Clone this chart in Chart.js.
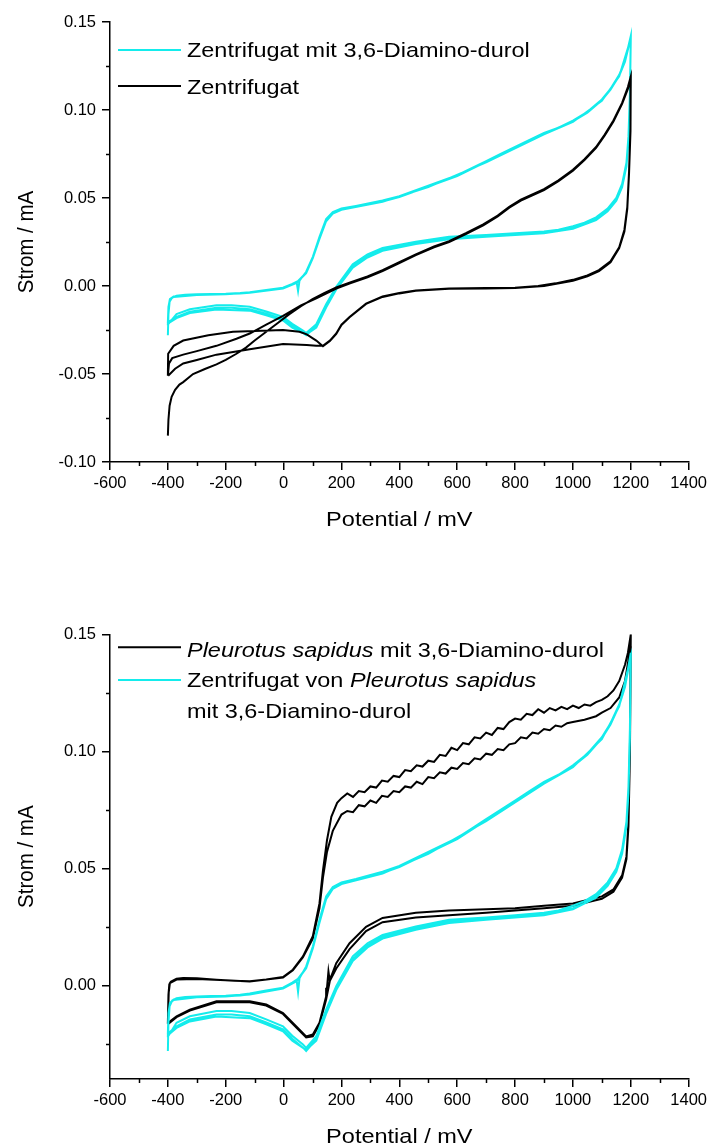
<!DOCTYPE html>
<html>
<head>
<meta charset="utf-8">
<script src="https://cdn.jsdelivr.net/npm/chart.js@4.4.1/dist/chart.umd.min.js"></script>
<style>
html, body { margin: 0; padding: 0; background: #fff; }
#wrap { position: relative; width: 711px; height: 1148px; }
canvas { position: absolute; left: 0; }
</style>
</head>
<body>
<div id="wrap">
  <canvas id="top" width="711" height="560" style="top:0px"></canvas>
  <canvas id="bottom" width="711" height="588" style="top:560px"></canvas>
</div>
<script>
// values: [potential mV, current mA]
const xTicks = [-600, -400, -200, 0, 200, 400, 600, 800, 1000, 1200, 1400]
const yTicksTop = [-0.10, -0.05, 0.00, 0.05, 0.10, 0.15]
const yTicksBottom = [0.00, 0.05, 0.10, 0.15]

// Zentrifugat mit 3,6-Diamino-durol (same run in both panels)
const cyanF1 = [[-400,-0.028],[-398,-0.016],[-394,-0.009],[-385,-0.0065],[-370,-0.0055],[-340,-0.005],[-300,-0.0047],[-250,-0.0045],[-200,-0.0044],[-150,-0.004],[-117,-0.0035],[-60,-0.0022],[-2,-0.001],[30,0.0012],[45,0.0024],[50,-0.0028],[55,0.003],[78,0.0081],[101,0.0166],[124,0.028],[147,0.038],[170,0.042],[200,0.044],[250,0.0455],[342,0.0486],[400,0.051],[450,0.054],[500,0.057],[550,0.06],[600,0.063],[650,0.067],[700,0.071],[750,0.075],[800,0.079],[850,0.083],[900,0.087],[950,0.09],[1000,0.094],[1050,0.099],[1100,0.106],[1130,0.112],[1160,0.12],[1180,0.128],[1200,0.142]]
const cyanR1 = [[1200,0.142],[1197,0.11],[1192,0.085],[1185,0.07],[1170,0.058],[1150,0.05],[1120,0.044],[1080,0.039],[1040,0.036],[1000,0.034],[950,0.032],[900,0.031],[800,0.03],[700,0.029],[572,0.028],[457,0.0252],[342,0.0216],[290,0.018],[239,0.0124],[182,-0.0004],[147,-0.0104],[113,-0.0217],[78,-0.0267],[67,-0.0253],[30,-0.0215],[-2,-0.0175],[-60,-0.0145],[-117,-0.0118],[-180,-0.011],[-232,-0.011],[-324,-0.0132],[-370,-0.016],[-399,-0.0217]]
const cyanF2 = [[-400,-0.0217],[-398,-0.012],[-393,-0.0075],[-380,-0.006],[-340,-0.0054],[-300,-0.005],[-232,-0.0047],[-150,-0.0043],[-117,-0.0038],[-60,-0.0025],[-2,-0.0013],[30,0.001],[45,0.002],[78,0.0075],[101,0.016],[124,0.027],[147,0.037],[170,0.0415],[200,0.0435],[250,0.045],[342,0.048],[400,0.0505],[500,0.0565],[600,0.0625],[700,0.0705],[800,0.0785],[900,0.0865],[1000,0.0935],[1050,0.0985],[1100,0.1055],[1130,0.1115],[1160,0.1195],[1180,0.1275],[1200,0.141]]
const cyanR2 = [[1200,0.141],[1197,0.108],[1192,0.083],[1185,0.069],[1170,0.057],[1150,0.049],[1120,0.043],[1080,0.038],[1040,0.035],[1000,0.033],[900,0.0305],[800,0.0295],[700,0.0285],[572,0.0272],[457,0.0245],[342,0.0208],[290,0.017],[239,0.0112],[182,-0.0014],[147,-0.0116],[113,-0.023],[78,-0.028],[67,-0.0266],[30,-0.0228],[-2,-0.0188],[-60,-0.0158],[-117,-0.0132],[-180,-0.0124],[-232,-0.0124],[-324,-0.0146],[-370,-0.0175],[-399,-0.0205]]
const cyanF3 = [[-400,-0.0205],[-398,-0.0118],[-393,-0.0076],[-380,-0.0062],[-300,-0.0051],[-200,-0.0047],[-117,-0.0039],[-2,-0.0014],[45,0.0018],[78,0.0073],[101,0.0158],[124,0.0268],[147,0.0368],[170,0.0412],[200,0.0433],[342,0.0478],[500,0.0562],[700,0.0702],[900,0.0862],[1000,0.0932],[1100,0.1052],[1160,0.1192],[1200,0.1405]]
const cyanR3 = [[1200,0.1405],[1197,0.106],[1192,0.082],[1185,0.068],[1170,0.0562],[1150,0.0485],[1120,0.0425],[1080,0.0375],[1000,0.0325],[900,0.03],[700,0.028],[572,0.0266],[457,0.0238],[342,0.02],[290,0.0162],[239,0.0104],[182,-0.002],[147,-0.0122],[113,-0.0236],[78,-0.0276],[30,-0.0236],[-2,-0.0196],[-60,-0.0166],[-117,-0.014],[-232,-0.0133],[-324,-0.0154],[-370,-0.0182],[-399,-0.0212]]

// Zentrifugat
const blackF1 = [[-400,-0.085],[-398,-0.076],[-394,-0.068],[-387,-0.063],[-375,-0.059],[-360,-0.056],[-347,-0.0546],[-313,-0.05],[-270,-0.047],[-232,-0.0445],[-200,-0.042],[-163,-0.0385],[-130,-0.035],[-100,-0.031],[-60,-0.026],[-20,-0.021],[20,-0.016],[60,-0.0115],[100,-0.0075],[140,-0.004],[182,-0.0008],[230,0.002],[290,0.0055],[342,0.009],[400,0.0135],[457,0.018],[520,0.0225],[572,0.0255],[630,0.03],[690,0.035],[740,0.04],[780,0.045],[820,0.049],[860,0.052],[900,0.055],[950,0.06],[1000,0.066],[1040,0.072],[1080,0.079],[1110,0.086],[1140,0.094],[1170,0.104],[1190,0.113],[1200,0.119]]
const blackR1 = [[1200,0.119],[1198,0.09],[1194,0.065],[1188,0.045],[1178,0.032],[1160,0.022],[1130,0.014],[1090,0.009],[1050,0.006],[1000,0.0035],[940,0.0015],[880,0.0],[800,-0.001],[700,-0.0012],[572,-0.0014],[457,-0.0025],[400,-0.004],[342,-0.006],[285,-0.01],[228,-0.0176],[200,-0.022],[182,-0.027],[160,-0.031],[136,-0.034],[113,-0.034],[80,-0.0335],[-2,-0.033],[-117,-0.036],[-232,-0.039],[-300,-0.042],[-347,-0.044],[-375,-0.047],[-399,-0.051]]
const blackF2 = [[-400,-0.051],[-396,-0.044],[-385,-0.041],[-347,-0.039],[-300,-0.037],[-232,-0.034],[-163,-0.03],[-117,-0.027],[-60,-0.022],[-2,-0.017],[60,-0.011],[113,-0.007],[182,-0.0015],[230,0.0015],[290,0.005],[342,0.0085],[400,0.013],[457,0.0175],[520,0.022],[572,0.025],[630,0.0295],[690,0.0345],[740,0.0395],[780,0.0445],[820,0.0485],[860,0.0515],[900,0.0545],[950,0.0595],[1000,0.0655],[1040,0.0715],[1080,0.0785],[1110,0.0855],[1140,0.0935],[1170,0.1035],[1190,0.112],[1200,0.118]]
const blackR2 = [[1200,0.118],[1198,0.088],[1194,0.064],[1188,0.044],[1178,0.031],[1160,0.0215],[1130,0.0135],[1090,0.0085],[1050,0.0055],[1000,0.003],[900,0.0],[800,-0.0012],[700,-0.0014],[572,-0.0016],[457,-0.0027],[400,-0.0042],[342,-0.0062],[285,-0.0102],[228,-0.0178],[200,-0.0222],[182,-0.0272],[160,-0.0312],[136,-0.0342],[113,-0.031],[80,-0.0275],[55,-0.026],[-2,-0.025],[-100,-0.0255],[-175,-0.026],[-260,-0.028],[-347,-0.031],[-380,-0.034],[-399,-0.0385]]

// Pleurotus sapidus mit 3,6-Diamino-durol
const psF1 = [[-400,-0.016],[-398,-0.004],[-395,0.0005],[-390,0.0015],[-370,0.0028],[-347,0.0032],[-300,0.003],[-232,0.0024],[-170,0.002],[-117,0.0018],[-60,0.0025],[-2,0.0036],[32,0.0067],[67,0.0124],[101,0.021],[124,0.035],[136,0.049],[150,0.062],[165,0.072],[185,0.078],[200,0.08],[220,0.082],[240,0.0805],[260,0.083],[280,0.0825],[300,0.085],[320,0.0845],[340,0.0875],[360,0.087],[380,0.0895],[400,0.089],[420,0.092],[440,0.0915],[460,0.094],[480,0.0935],[500,0.096],[520,0.0955],[540,0.0985],[560,0.098],[580,0.1015],[600,0.1005],[620,0.1035],[640,0.103],[660,0.106],[680,0.1055],[700,0.108],[720,0.107],[740,0.11],[760,0.1095],[780,0.1125],[800,0.114],[820,0.1135],[840,0.116],[860,0.1155],[880,0.118],[900,0.1165],[920,0.1185],[940,0.1175],[960,0.119],[980,0.118],[1000,0.1195],[1020,0.1185],[1040,0.12],[1060,0.1195],[1080,0.121],[1100,0.122],[1120,0.1235],[1140,0.126],[1160,0.13],[1180,0.137],[1190,0.142],[1200,0.15]]
const psR1 = [[1200,0.15],[1197,0.1],[1192,0.07],[1185,0.055],[1170,0.047],[1140,0.041],[1100,0.038],[1050,0.0365],[1000,0.035],[900,0.034],[800,0.033],[700,0.0325],[572,0.032],[457,0.031],[342,0.0288],[285,0.025],[228,0.018],[182,0.0095],[165,0.004],[159,0.0024],[155,0.006],[150,-0.001],[147,-0.0047],[124,-0.016],[101,-0.021],[78,-0.0218],[44,-0.0175],[-2,-0.0118],[-60,-0.0082],[-117,-0.0068],[-232,-0.0068],[-324,-0.0104],[-370,-0.0132],[-399,-0.016]]
const psF2 = [[-400,-0.016],[-397,-0.003],[-393,0.001],[-370,0.0025],[-300,0.0027],[-200,0.0022],[-117,0.0017],[-2,0.0033],[32,0.0064],[67,0.012],[101,0.02],[124,0.033],[136,0.046],[150,0.057],[170,0.066],[200,0.073],[220,0.0745],[240,0.074],[260,0.077],[280,0.0765],[300,0.079],[320,0.078],[340,0.081],[360,0.0805],[380,0.083],[400,0.0825],[420,0.085],[440,0.0845],[460,0.087],[480,0.086],[500,0.089],[520,0.0885],[540,0.091],[560,0.0905],[580,0.093],[600,0.0925],[620,0.095],[640,0.0945],[660,0.097],[680,0.0965],[700,0.099],[720,0.0985],[740,0.101],[760,0.1005],[780,0.103],[800,0.1035],[820,0.106],[840,0.1055],[860,0.108],[880,0.1075],[900,0.1095],[920,0.109],[940,0.111],[960,0.1105],[980,0.112],[1000,0.1125],[1040,0.1135],[1080,0.115],[1100,0.1165],[1130,0.1185],[1160,0.123],[1180,0.13],[1200,0.145]]
const psR2 = [[1200,0.145],[1197,0.098],[1192,0.068],[1185,0.054],[1170,0.046],[1140,0.04],[1100,0.037],[1050,0.0355],[1000,0.034],[900,0.033],[800,0.032],[700,0.031],[572,0.03],[457,0.029],[342,0.027],[285,0.0232],[228,0.0155],[182,0.0072],[160,0.002],[147,-0.006],[124,-0.0168],[101,-0.0218],[78,-0.0222],[44,-0.018],[-2,-0.0122],[-60,-0.0086],[-117,-0.0072],[-232,-0.0072],[-324,-0.0108],[-370,-0.0136],[-399,-0.0165]]

const cyan = '#14ECEC'
const black = '#000000'

function pts(branches) {
    let out = []
    branches.forEach(b => b.forEach(p => out.push({x: p[0], y: p[1]})))
    return out
}

function makeDataset(branches, color) {
    return {
        data: pts(branches),
        showLine: true,
        borderColor: color,
        borderWidth: 2,
        pointRadius: 0,
        tension: 0,
        fill: false
    }
}

// the scanned figure is wider than it is tall, so text is stretched sideways
function drawRuns(ctx, runs, x, y, size, sx, sy) {
    ctx.save()
    ctx.translate(x, y)
    ctx.scale(sx, sy || 1)
    let cx = 0
    runs.forEach(r => {
        ctx.font = (r.italic ? 'italic ' : '') + size + 'px "Liberation Sans", Arial, sans-serif'
        ctx.fillText(r.text, cx, 0)
        cx += ctx.measureText(r.text).width
    })
    ctx.restore()
}

const extras = {
    id: 'extras',
    afterDraw(chart, args, opts) {
        const ctx = chart.ctx
        const xs = chart.scales.x
        const ys = chart.scales.y
        ctx.save()
        ctx.strokeStyle = '#000'
        ctx.lineWidth = 1.5
        // minor ticks
        opts.xMinor.forEach(v => {
            const px = Math.round(xs.getPixelForValue(v)) + 0.5
            ctx.beginPath(); ctx.moveTo(px, ys.bottom); ctx.lineTo(px, ys.bottom + 4); ctx.stroke()
        })
        opts.yMinor.forEach(v => {
            const py = Math.round(ys.getPixelForValue(v)) + 0.5
            ctx.beginPath(); ctx.moveTo(xs.left, py); ctx.lineTo(xs.left - 4, py); ctx.stroke()
        })
        ctx.fillStyle = '#000'
        ctx.textBaseline = 'alphabetic'
        ctx.textAlign = 'left'
        // axis titles
        ctx.font = '21px "Liberation Sans", Arial, sans-serif'
        const xt = 'Potential / mV'
        const xw = ctx.measureText(xt).width * 1.12
        drawRuns(ctx, [{text: xt}], (xs.left + xs.right) / 2 - xw / 2, opts.xTitleY, 21, 1.12)
        ctx.font = '20.5px "Liberation Sans", Arial, sans-serif'
        const yt = 'Strom / mA'
        const yw = ctx.measureText(yt).width
        ctx.save()
        ctx.translate(opts.yTitleX, (ys.top + ys.bottom) / 2)
        ctx.rotate(-Math.PI / 2)
        drawRuns(ctx, [{text: yt}], -yw / 2, 0, 20.5, 1, 1.12)
        ctx.restore()
        // legend
        opts.legend.forEach(item => {
            if (item.color) {
                ctx.strokeStyle = item.color
                ctx.lineWidth = 2
                ctx.beginPath(); ctx.moveTo(118, item.lineY); ctx.lineTo(181, item.lineY); ctx.stroke()
            }
            ctx.fillStyle = '#000'
            drawRuns(ctx, item.runs, 187, item.baseY, 20.4, 1.15)
        })
        ctx.restore()
    }
}

function makeChart(id, datasets, cfg) {
    const canvas = document.getElementById(id)
    const H = canvas.height
    return new Chart(canvas, {
        type: 'scatter',
        data: {datasets: datasets},
        options: {
            responsive: false,
            animation: false,
            devicePixelRatio: 1,
            layout: {padding: {top: cfg.top, right: 21, left: 0, bottom: 0}},
            plugins: {
                legend: {display: false},
                tooltip: {enabled: false},
                extras: cfg.extras
            },
            scales: {
                x: {
                    type: 'linear',
                    min: -600, max: 1400,
                    afterBuildTicks: s => { s.ticks = xTicks.map(v => ({value: v})) },
                    afterFit: s => { s.height = H - cfg.bottom },
                    border: {display: true, color: '#000', width: 1.5},
                    grid: {drawOnChartArea: false, drawTicks: true, tickLength: 8, color: '#000', lineWidth: 1.5},
                    ticks: {color: '#000', padding: 4, maxRotation: 0, autoSkip: false,
                        font: {family: '"Liberation Sans", Arial, sans-serif', size: 16.5},
                        callback: v => String(v)}
                },
                y: {
                    type: 'linear',
                    min: cfg.ymin, max: 0.15,
                    afterBuildTicks: s => { s.ticks = cfg.yTicks.map(v => ({value: v})) },
                    afterFit: s => { s.width = 110 },
                    border: {display: true, color: '#000', width: 1.5},
                    grid: {drawOnChartArea: false, drawTicks: true, tickLength: 8, color: '#000', lineWidth: 1.5},
                    ticks: {color: '#000', padding: 6, autoSkip: false,
                        font: {family: '"Liberation Sans", Arial, sans-serif', size: 16.5},
                        callback: v => Number(v).toFixed(2)}
                }
            }
        },
        plugins: [extras]
    })
}

const cyanRun = [cyanF1, cyanR1, cyanF2, cyanR2, cyanF3, cyanR3]

makeChart('top', [
    makeDataset([blackF1, blackR2, blackF2, blackR1], black),
    makeDataset(cyanRun, cyan)
], {
    top: 22, bottom: 462, ymin: -0.10, yTicks: yTicksTop,
    extras: {
        xMinor: [-500, -300, -100, 100, 300, 500, 700, 900, 1100, 1300],
        yMinor: [-0.075, -0.025, 0.025, 0.075, 0.125],
        xTitleY: 526, yTitleX: 33,
        legend: [
            {color: cyan, lineY: 50, baseY: 57.3, runs: [{text: 'Zentrifugat mit 3,6-Diamino-durol'}]},
            {color: black, lineY: 86, baseY: 94, runs: [{text: 'Zentrifugat'}]}
        ]
    }
})

makeChart('bottom', [
    makeDataset(cyanRun, cyan),
    makeDataset([psF1, psR1, psF2, psR2], black)
], {
    top: 74.3, bottom: 519, ymin: -0.04, yTicks: yTicksBottom,
    extras: {
        xMinor: [-500, -300, -100, 100, 300, 500, 700, 900, 1100, 1300],
        yMinor: [-0.025, 0.025, 0.075, 0.125],
        xTitleY: 583, yTitleX: 33,
        legend: [
            {color: black, lineY: 87.3, baseY: 96.7, runs: [{text: 'Pleurotus sapidus', italic: true}, {text: ' mit 3,6-Diamino-durol'}]},
            {color: cyan, lineY: 120, baseY: 127, runs: [{text: 'Zentrifugat von '}, {text: 'Pleurotus sapidus', italic: true}]},
            {baseY: 157.5, runs: [{text: 'mit 3,6-Diamino-durol'}]}
        ]
    }
})
</script>
</body>
</html>
